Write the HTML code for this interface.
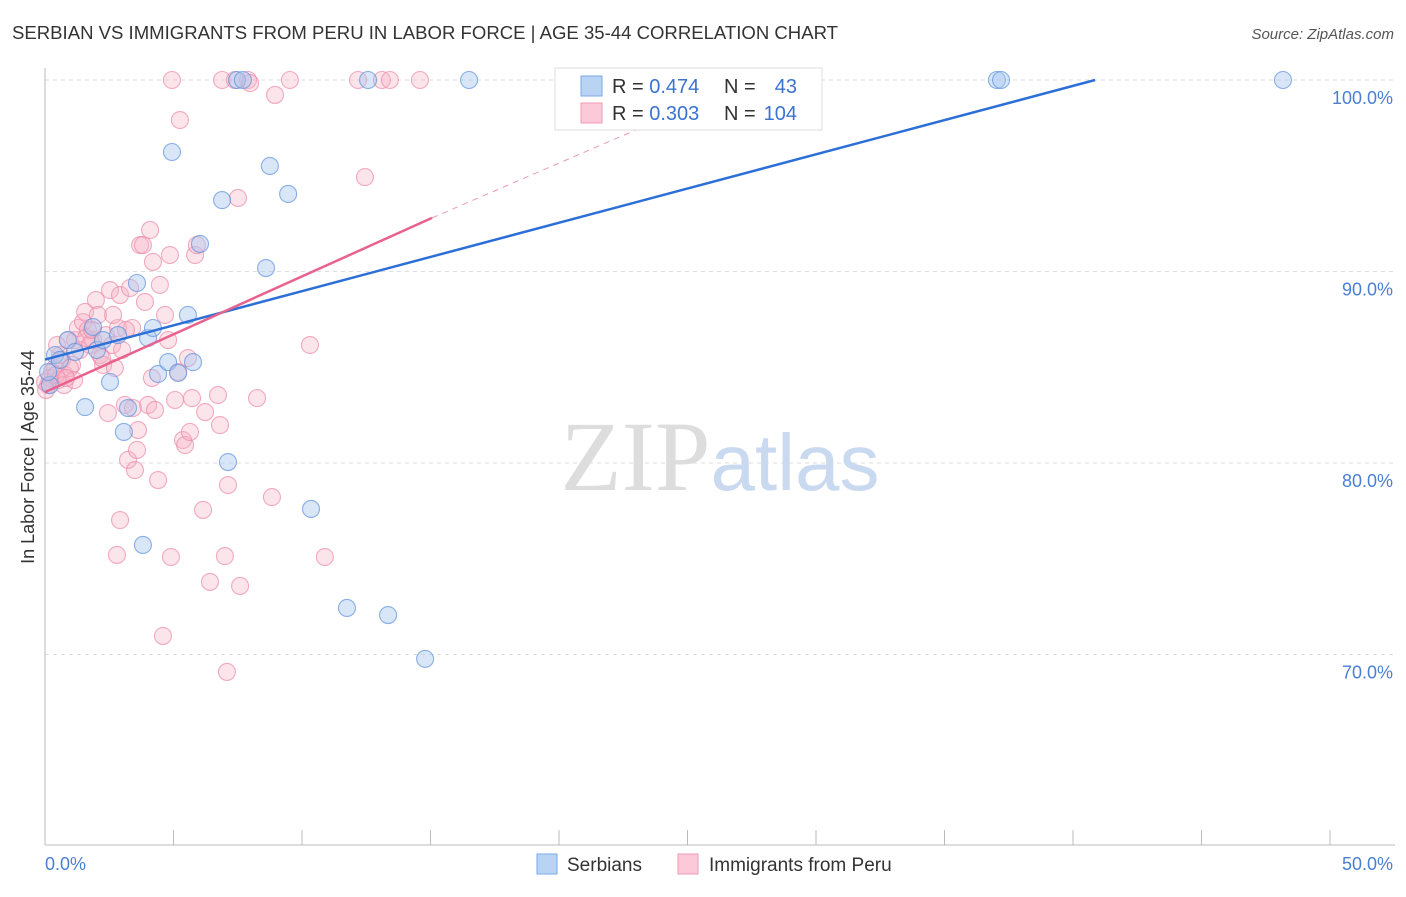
<!DOCTYPE html>
<html><head><meta charset="utf-8"><style>
body{margin:0;background:#fff;font-family:"Liberation Sans",sans-serif}
svg text{font-family:"Liberation Sans",sans-serif}
</style></head><body>
<svg id="chart" width="1406" height="892" xmlns="http://www.w3.org/2000/svg">
<text x="12" y="39" font-size="18" fill="#333" textLength="826" lengthAdjust="spacingAndGlyphs">SERBIAN VS IMMIGRANTS FROM PERU IN LABOR FORCE | AGE 35-44 CORRELATION CHART</text>
<text x="1394" y="39" font-size="15" fill="#555" text-anchor="end" font-style="italic">Source: ZipAtlas.com</text>
<g id="grid"></g>
<text x="720" y="490" font-size="100" text-anchor="middle"><tspan fill="#ddd" font-family="Liberation Serif">ZIP</tspan><tspan fill="#c9d9f0" font-size="80">atlas</tspan></text>
<g id="points"></g>
<g id="trends"></g>
<text transform="translate(34,457) rotate(-90)" font-size="18" fill="#333" text-anchor="middle">In Labor Force | Age 35-44</text>
<text x="45" y="870" font-size="18" fill="#4a7fd4">0.0%</text>
<text x="1393" y="870" font-size="18" fill="#4a7fd4" text-anchor="end">50.0%</text>
<g>
<rect x="555" y="68" width="267" height="62" fill="#fff" stroke="#ddd"/>
<rect x="581" y="76" width="21" height="20" fill="#b9d3f5" stroke="#7aa8e8"/>
<rect x="581" y="103" width="21" height="20" fill="#fcc9d8" stroke="#f09ab5"/>
<text x="612" y="93" font-size="20" fill="#333">R = <tspan fill="#3a73d0">0.474</tspan></text>
<text x="724" y="93" font-size="20" fill="#333">N = </text><text x="797" y="93" font-size="20" fill="#3a73d0" text-anchor="end">43</text>
<text x="612" y="120" font-size="20" fill="#333">R = <tspan fill="#3a73d0">0.303</tspan></text>
<text x="724" y="120" font-size="20" fill="#333">N = </text><text x="797" y="120" font-size="20" fill="#3a73d0" text-anchor="end">104</text>
</g>
<g>
<rect x="537" y="854" width="20" height="20" fill="#b9d3f5" stroke="#7aa8e8"/>
<text x="567" y="871" font-size="19" fill="#333">Serbians</text>
<rect x="678" y="854" width="20" height="20" fill="#fcc9d8" stroke="#f09ab5"/>
<text x="709" y="871" font-size="19" fill="#333">Immigrants from Peru</text>
</g>
</svg>
<script>
const yTicks=[100,90,80,70];
const yTickLabels=["100.0%","90.0%","80.0%","70.0%"];
const xTicks=[0,5,10,15,20,25,30,35,40,45,50];
const blueX=[0.39,0.58,0.89,1.17,1.56,1.87,2.02,2.26,2.53,2.84,3.07,3.23,3.58,3.81,4.01,4.20,4.40,4.79,4.94,5.18,5.56,5.76,6.03,6.89,7.12,7.47,7.70,8.60,8.75,9.46,10.35,11.75,12.57,13.35,14.79,16.50,20.54,26.07,37.04,37.20,48.17,0.19,0.12];
const blueY=[85.64,85.38,86.42,85.80,82.92,87.10,85.90,86.42,84.23,86.68,81.62,82.87,89.40,75.72,86.53,87.05,84.65,85.27,96.24,84.70,87.73,85.27,91.44,93.73,80.05,100,100,90.18,95.51,94.05,77.60,72.43,100,72.06,69.77,100,100,100,100,100,100,84.07,84.75];
const pinkX=[0.12,0.19,0.27,0.39,0.51,0.66,0.78,0.89,1.05,1.17,1.28,1.36,1.48,1.56,1.67,1.75,1.87,1.98,2.06,2.14,2.26,2.37,2.53,2.61,2.72,2.84,2.92,3.00,3.11,3.23,3.31,3.39,3.50,3.58,3.70,3.81,3.89,4.01,4.09,4.16,4.20,4.28,4.40,4.47,4.59,4.67,4.79,4.86,4.94,5.06,5.18,5.25,5.37,5.45,5.56,5.72,5.84,5.91,6.15,6.23,6.42,6.73,6.81,6.89,7.00,7.08,7.12,7.39,7.51,7.59,7.90,7.98,8.25,8.83,8.95,9.53,10.31,10.89,12.18,12.45,13.11,13.42,14.59,2.92,2.80,0.00,0.04,0.43,0.58,0.74,0.97,1.13,1.60,1.83,2.22,2.45,2.65,3.15,3.42,3.62,4.90,5.64,0.47,0.82];
const pinkY=[84.07,84.44,84.75,84.96,84.33,85.38,84.60,86.42,85.12,86.42,87.05,85.90,87.36,87.89,86.95,86.16,86.42,88.51,87.73,85.64,85.12,86.68,89.03,86.16,84.96,87.05,88.77,85.90,83.03,80.16,89.14,87.05,79.63,80.68,91.38,91.38,88.41,83.03,92.17,84.44,90.50,82.77,79.11,89.30,70.97,87.73,86.42,90.86,100,83.29,84.75,97.91,81.20,80.94,85.48,83.39,90.86,91.38,77.55,82.66,73.79,83.55,81.98,100,75.14,69.09,78.85,100,93.84,73.58,100,99.84,83.39,78.22,99.22,100,86.16,75.09,100,94.93,100,100,100,77.02,75.20,84.23,83.81,84.60,85.64,84.07,84.96,84.33,86.53,86.95,85.48,82.61,87.73,86.95,82.87,81.72,75.09,81.62,86.16,84.44];
const blueTrend=[[0,85.4],[40.86,100]];
const pinkTrend=[[0,83.7],[15.06,92.8]];
const pinkDash=[[15.06,92.8],[27.5,100]];
const NS="http://www.w3.org/2000/svg";
const X=v=>45+v*25.7, Y=v=>80+(100-v)*19.15;
function mk(t,a,p){const e=document.createElementNS(NS,t);for(const k in a)e.setAttribute(k,a[k]);p.appendChild(e);return e;}
const grid=document.getElementById('grid');
yTicks.forEach((t,i)=>{
 const l=mk('line',{x1:45,x2:1395,y1:Y(t),y2:Y(t),stroke:'#ddd','stroke-dasharray':'4,4'},grid);
 
 
 const tx=mk('text',{x:1393,y:Y(t)+24,'font-size':18,fill:'#4a7fd4','text-anchor':'end'},grid);
 tx.textContent=yTickLabels[i];
 
 
});
const ax=mk('line',{x1:45,x2:1395,y1:845,y2:845,stroke:'#bbb'},grid);


const ay=mk('line',{x1:45,x2:45,y1:68,y2:845,stroke:'#bbb'},grid);


xTicks.forEach(t=>{
 const l=mk('line',{x1:X(t),x2:X(t),y1:830,y2:845,stroke:'#bbb'},grid);
 
 
});
const pts=document.getElementById('points');
function dots(xs,ys,fill,stroke,name,op){
 xs.forEach((x,i)=>{
  const c=mk('circle',{cx:X(x),cy:Y(ys[i]),r:8.5,fill:fill,'fill-opacity':op,stroke:stroke,'stroke-width':1.1,'stroke-opacity':0.7},pts);
  
  
 });
}
dots(pinkX,pinkY,'#f7b2c7','#eb8aa9','peru-point',0.35);
dots(blueX,blueY,'#a9c8f0','#5d92dc','serbian-point',0.45);
const tr=document.getElementById('trends');
function line(p,stroke,w,dash,name){
 const l=mk('line',{x1:X(p[0][0]),y1:Y(p[0][1]),x2:X(p[1][0]),y2:Y(p[1][1]),stroke:stroke,'stroke-width':w},tr);
 if(dash)l.setAttribute('stroke-dasharray',dash);
 
 
}
line(pinkDash,'#eb9ab5',1,'6,5','peru-trend-extension');
line(blueTrend,'#2c6fd6',2.5,null,'serbian-trend-line');
line(pinkTrend,'#e8628e',2.5,null,'peru-trend-line');
</script>
</body></html>
